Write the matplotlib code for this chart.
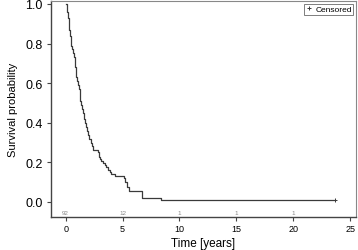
import numpy as np
import matplotlib
matplotlib.use('Agg')
from matplotlib import pyplot as plt

plt.rcParams.update({
    "font.family": ["Liberation Sans", "DejaVu Sans"],
    "font.size": 8,
})

# Kaplan-Meier step points (time in years, survival)
step_time = [0.05, 0.1, 0.15, 0.2, 0.27, 0.33, 0.38, 0.43, 0.5, 0.58, 0.66, 0.74, 0.8, 0.85, 0.9, 0.95,
             1.02, 1.1, 1.17, 1.23, 1.3, 1.38, 1.47, 1.55, 1.62, 1.67, 1.75, 1.85, 1.97, 2.08, 2.2, 2.3,
             2.4, 2.85, 2.95, 3.05, 3.14, 3.3, 3.45, 3.58, 3.72, 3.86, 4.0, 4.3, 5.15, 5.25, 5.4, 5.6,
             6.75, 8.36]
step_surv = [1.0, 0.98, 0.96, 0.93, 0.90, 0.87, 0.84, 0.81, 0.79, 0.77, 0.75, 0.73, 0.71, 0.68, 0.65, 0.63,
             0.61, 0.59, 0.57, 0.54, 0.51, 0.49, 0.47, 0.45, 0.42, 0.40, 0.38, 0.36, 0.34, 0.32, 0.30, 0.28,
             0.26, 0.25, 0.228, 0.217, 0.207, 0.196, 0.185, 0.174, 0.163, 0.152, 0.141, 0.13, 0.12, 0.098,
             0.076, 0.054, 0.022, 0.011]
censor_time = [23.7]
censor_surv = [0.011]
end_time = 23.7

risk_times = [0, 5, 10, 15, 20]
risk_counts = [92, 12, 1, 1, 1]

fig = plt.figure(figsize=(3.58, 2.51), dpi=100)
ax = fig.add_axes([0.142, 0.131, 0.852, 0.861])

t = step_time + [end_time]
s = step_surv + [step_surv[-1]]
ax.step(t, s, where='post', color='#3a3a3a', linewidth=0.9)
ax.plot(censor_time, censor_surv, linestyle='none', marker='+', markersize=3,
        color='#3a3a3a', markeredgewidth=0.7, label='Censored')

for rt, rc in zip(risk_times, risk_counts):
    ax.text(rt, -0.055, str(rc), ha='center', va='center', fontsize=4.5, color='#888888')

ax.set_xlim(-1.3, 25.5)
ax.set_ylim(-0.077, 1.015)
ax.set_xticks(np.arange(0, 26, 5))
ax.set_yticks(np.arange(0, 1.01, 0.2))
ax.yaxis.set_major_formatter(matplotlib.ticker.FormatStrFormatter('%.1f'))
ax.tick_params(axis='both', direction='out', length=3, width=0.8, color='#444444')
ax.tick_params(axis='y', labelsize=9, pad=3)
ax.tick_params(axis='x', labelsize=6.5, pad=2)
ax.set_xlabel("Time [years]", fontsize=8.5, labelpad=3)
ax.set_ylabel("Survival probability", fontsize=8, labelpad=5)

for side in ['left', 'bottom']:
    ax.spines[side].set_color('#444444')
    ax.spines[side].set_linewidth(1.0)
for side in ['right', 'top']:
    ax.spines[side].set_color('#888888')
    ax.spines[side].set_linewidth(0.8)

leg = ax.legend(loc='upper right', fontsize=6, frameon=True, fancybox=False,
                handlelength=0.8, handletextpad=0.4, borderpad=0.2, borderaxespad=0.3)
leg.get_frame().set_edgecolor('#444444')
leg.get_frame().set_linewidth(0.6)

plt.savefig("out.png", dpi=100)
